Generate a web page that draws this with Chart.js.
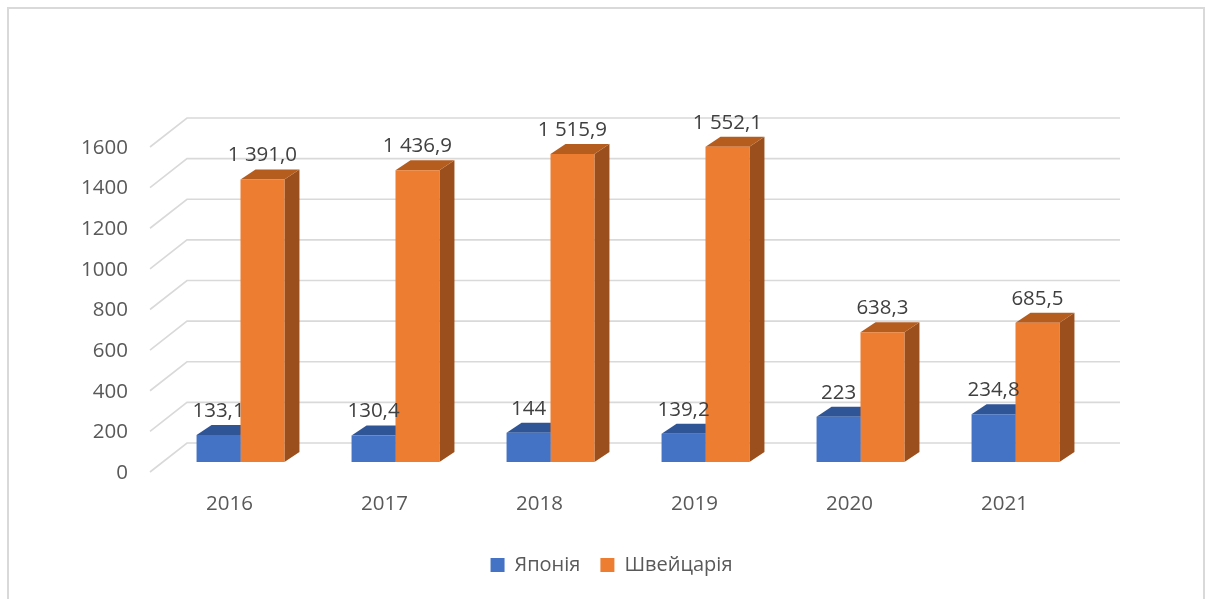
<!DOCTYPE html>
<html><head><meta charset="utf-8">
<script src="https://cdn.jsdelivr.net/npm/chart.js@4.4.1/dist/chart.umd.min.js"></script>
<style>html,body{margin:0;padding:0;background:#fff;overflow:hidden}canvas{display:block}</style>
</head><body>
<canvas id="c" width="1209" height="599"></canvas>
<script>
// ---- data ----
const years = ['2016', '2017', '2018', '2019', '2020', '2021'];
const seriesNames = ['Японія', 'Швейцарія'];
const japan = [133.1, 130.4, 144, 139.2, 223, 234.8];
const switzerland = [1391.0, 1436.9, 1515.9, 1552.1, 638.3, 685.5];
const japanDecimals = null;      // shown as typed
const switzerlandDecimals = 1;   // shown with one decimal
const yMin = 0, yMax = 1600, yStep = 200;

const FONT = "'Open Sans', 'Liberation Sans', sans-serif";
const DX = 15, DY = 10;

function fmt(v, dec) {
  let s = dec == null ? String(v) : v.toFixed(dec);
  let [i, f] = s.split('.');
  i = i.replace(/\B(?=(\d{3})+(?!\d))/g, ' ');
  return f !== undefined ? i + ',' + f : i;
}

const threeD = {
  id: 'threeD',
  afterLayout(chart) {
    // centre the legend row like the reference (over x 130..1093)
    if (chart.legend) { chart.legend.left = 130; chart.legend.right = chart.width - 116; }
  },
  beforeDraw(chart) {
    const ctx = chart.ctx;
    ctx.save();
    ctx.strokeStyle = '#D9D9D9';
    ctx.lineWidth = 2;
    ctx.strokeRect(8, 8, 1196, 700);
    ctx.restore();
  },
  beforeDatasetsDraw(chart) {
    const { ctx, chartArea: a, scales: { y } } = chart;
    ctx.save();
    ctx.strokeStyle = '#D9D9D9';
    ctx.lineWidth = 1.6;
    y.ticks.forEach(t => {
      const yb = y.getPixelForValue(t.value);
      ctx.beginPath();
      ctx.moveTo(a.left - 13, yb + 10);
      ctx.lineTo(a.left + 24, yb - 19);
      ctx.lineTo(a.right + 27, yb - 19);
      ctx.stroke();
    });
    chart.data.datasets.forEach((ds, di) => {
      const meta = chart.getDatasetMeta(di);
      meta.data.forEach(bar => {
        const p = bar.getProps(['x', 'y', 'base', 'width'], true);
        const l = p.x - p.width / 2, r = p.x + p.width / 2, top = p.y, base = p.base;
        ctx.fillStyle = ds.sideColor;
        ctx.beginPath();
        ctx.moveTo(r, top); ctx.lineTo(r + DX, top - DY); ctx.lineTo(r + DX, base - DY); ctx.lineTo(r, base);
        ctx.closePath(); ctx.fill();
        ctx.fillStyle = ds.topColor;
        ctx.beginPath();
        ctx.moveTo(l, top); ctx.lineTo(l + DX, top - DY); ctx.lineTo(r + DX, top - DY); ctx.lineTo(r, top);
        ctx.closePath(); ctx.fill();
      });
    });
    ctx.restore();
  },
  afterDatasetsDraw(chart) {
    const ctx = chart.ctx;
    ctx.save();
    ctx.font = '20.5px ' + FONT;
    ctx.fillStyle = '#404040';
    ctx.textAlign = 'center';
    ctx.textBaseline = 'middle';
    chart.data.datasets.forEach((ds, di) => {
      const meta = chart.getDatasetMeta(di);
      meta.data.forEach((bar, i) => {
        const p = bar.getProps(['x', 'y'], true);
        ctx.fillText(fmt(ds.data[i], ds.decimals), p.x, p.y - 24);
      });
    });
    ctx.restore();
  }
};

new Chart(document.getElementById('c'), {
  type: 'bar',
  data: {
    labels: years,
    datasets: [
      { label: seriesNames[0], data: japan, decimals: japanDecimals,
        backgroundColor: '#4472C4', topColor: '#2F5597', sideColor: '#2F528F' },
      { label: seriesNames[1], data: switzerland, decimals: switzerlandDecimals,
        backgroundColor: '#ED7D31', topColor: '#B55D1F', sideColor: '#9A4F1C' }
    ]
  },
  options: {
    responsive: false,
    animation: false,
    devicePixelRatio: 1,
    categoryPercentage: 0.567,
    barPercentage: 1,
    layout: { padding: { top: 137, left: 0, right: 116, bottom: 14 } },
    plugins: {
      tooltip: { enabled: false },
      legend: {
        position: 'bottom',
        labels: { boxWidth: 14, boxHeight: 14, padding: 20, color: '#595959', font: { family: FONT, size: 20 } }
      }
    },
    scales: {
      x: {
        grid: { display: false, drawTicks: false },
        border: { display: false },
        ticks: { color: '#595959', font: { family: FONT, size: 20.5 }, padding: 30, labelOffset: -11, maxRotation: 0 },
        afterFit(s) { s.height = 73; }
      },
      y: {
        min: yMin, max: yMax,
        grid: { display: false, drawTicks: false },
        border: { display: false },
        ticks: { stepSize: yStep, color: '#595959', font: { family: FONT, size: 20.5 }, padding: 35, labelOffset: 11,
                 callback: v => String(v) },
        afterFit(s) { s.width = 163; }
      }
    }
  },
  plugins: [threeD]
});
</script>
</body></html>
